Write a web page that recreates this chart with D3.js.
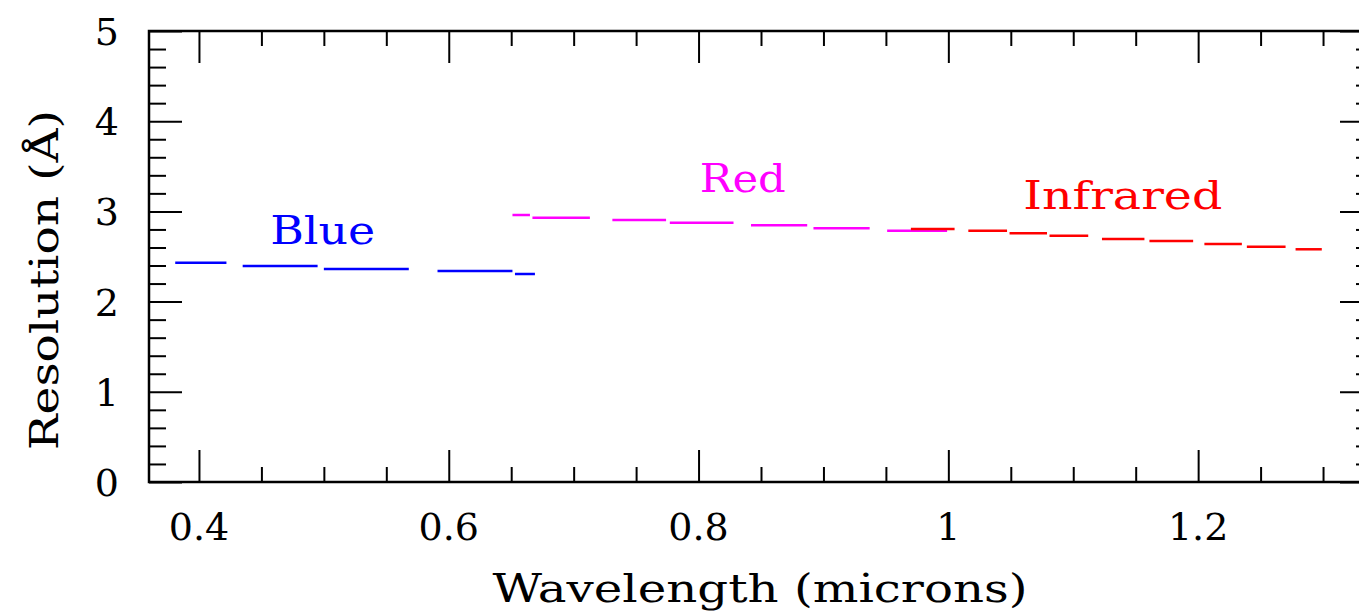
<!DOCTYPE html>
<html>
<head>
<meta charset="utf-8">
<script src="https://cdn.jsdelivr.net/npm/d3@7"></script>
<style>
  body { margin: 0; background: #fff; overflow: hidden; }
  text { font-family: "DejaVu Serif", "Liberation Serif", serif; }
</style>
</head>
<body>
<div id="chart-container"></div>
<script>
{ // start block scope

  // wavelength (microns) where each dash starts / ends, and resolution (A)
  const blueStart = [0.381, 0.435, 0.500, 0.591, 0.653];
  const blueEnd   = [0.422, 0.495, 0.568, 0.651, 0.669];
  const blueRes   = [2.431, 2.395, 2.361, 2.339, 2.306];

  const redStart = [0.651, 0.667, 0.731, 0.777, 0.842, 0.892, 0.951];
  const redEnd   = [0.665, 0.713, 0.774, 0.828, 0.887, 0.937, 0.999];
  const redRes   = [2.960, 2.930, 2.905, 2.875, 2.846, 2.813, 2.786];

  const irStart = [0.970, 1.016, 1.049, 1.081, 1.123, 1.161, 1.205, 1.239, 1.278];
  const irEnd   = [1.005, 1.047, 1.079, 1.112, 1.157, 1.196, 1.235, 1.270, 1.299];
  const irRes   = [2.805, 2.786, 2.757, 2.731, 2.694, 2.672, 2.639, 2.609, 2.580];

  const xMajorTicks = [0.4, 0.6, 0.8, 1.0, 1.2];
  const xTickLabels = ['0.4', '0.6', '0.8', '1', '1.2'];
  const yMajorTicks = [0, 1, 2, 3, 4, 5];

  const seriesNames = ['Blue', 'Red', 'Infrared'];
  // where each name sits, in data units (wavelength, resolution)
  const labelWave = [0.457, 0.801, 1.060];
  const labelRes  = [2.64, 3.22, 3.03];

  const color = { blue: '#0000ff', magenta: '#ff00ff', red: '#ff0000' };
  const seriesColors = [color.blue, color.magenta, color.red];
  const labelWidths = [105, 86, 199];

  const series = [
    { start: blueStart, end: blueEnd, res: blueRes },
    { start: redStart, end: redEnd, res: redRes },
    { start: irStart, end: irEnd, res: irRes }
  ];

  // constants
  const totalWidth = 1359;
  const totalHeight = 613;
  const plot = { left: 149, right: 1373, top: 31, bottom: 482 };

  const svg = d3.select('#chart-container')
    .append('svg')
    .attr('width', totalWidth)
    .attr('height', totalHeight);

  // scales
  const xScale = d3.scaleLinear()
    .domain([0.36, 1.34])
    .range([plot.left, plot.right]);

  const yScale = d3.scaleLinear()
    .domain([0, 5])
    .range([plot.bottom, plot.top]);

  const xMinor = d3.range(0.4, 1.34, 0.05).map(d => +d.toFixed(2))
    .filter(d => !xMajorTicks.some(m => Math.abs(m - d) < 1e-6));
  const yMinor = d3.range(0, 5.001, 0.2).map(d => +d.toFixed(1))
    .filter(d => !yMajorTicks.includes(d));

  // axes: ticks pointing inward on all four sides
  const axes = svg.append('g').attr('class', 'axes');

  function addAxis(axisGen, tickVals, size, transform) {
    axes.append('g')
      .attr('transform', transform)
      .call(axisGen.tickValues(tickVals).tickSize(size).tickFormat(''))
      .call(g => g.select('.domain').remove())
      .call(g => g.selectAll('line').attr('stroke', '#000').attr('stroke-width', 2));
  }

  // bottom & top
  addAxis(d3.axisTop(xScale), xMajorTicks, 32, `translate(0, ${plot.bottom})`);
  addAxis(d3.axisTop(xScale), xMinor, 15, `translate(0, ${plot.bottom})`);
  addAxis(d3.axisBottom(xScale), xMajorTicks, 32, `translate(0, ${plot.top})`);
  addAxis(d3.axisBottom(xScale), xMinor, 15, `translate(0, ${plot.top})`);
  // left & right
  addAxis(d3.axisRight(yScale), yMajorTicks, 33, `translate(${plot.left}, 0)`);
  addAxis(d3.axisRight(yScale), yMinor, 17, `translate(${plot.left}, 0)`);
  addAxis(d3.axisLeft(yScale), yMajorTicks, 33, `translate(${plot.right}, 0)`);
  addAxis(d3.axisLeft(yScale), yMinor, 17, `translate(${plot.right}, 0)`);

  // frame
  axes.append('rect')
    .attr('x', plot.left)
    .attr('y', plot.top)
    .attr('width', plot.right - plot.left)
    .attr('height', plot.bottom - plot.top)
    .attr('fill', 'none')
    .attr('stroke', '#000')
    .attr('stroke-width', 2.5);

  // tick labels
  svg.append('g')
    .selectAll('text')
    .data(xMajorTicks)
    .enter()
    .append('text')
    .attr('x', d => xScale(d))
    .attr('y', 540)
    .attr('text-anchor', 'middle')
    .attr('font-size', 38)
    .text((d, i) => xTickLabels[i]);

  svg.append('g')
    .selectAll('text')
    .data(yMajorTicks)
    .enter()
    .append('text')
    .attr('x', 119)
    .attr('y', d => yScale(d) + 14)
    .attr('text-anchor', 'end')
    .attr('font-size', 38)
    .text(d => d);

  // axis titles
  svg.append('text')
    .attr('x', 760)
    .attr('y', 602)
    .attr('text-anchor', 'middle')
    .attr('font-size', 40)
    .attr('textLength', 535)
    .attr('lengthAdjust', 'spacingAndGlyphs')
    .text('Wavelength (microns)');

  svg.append('text')
    .attr('transform', 'translate(58, 280) rotate(-90)')
    .attr('text-anchor', 'middle')
    .attr('font-size', 40)
    .attr('textLength', 340)
    .attr('lengthAdjust', 'spacingAndGlyphs')
    .text('Resolution (Å)');

  // dashes
  series.forEach((s, k) => {
    svg.append('g')
      .selectAll('line')
      .data(s.start.map((d, i) => ({ x0: d, x1: s.end[i], y: s.res[i] })))
      .enter()
      .append('line')
      .attr('x1', d => xScale(d.x0))
      .attr('x2', d => xScale(d.x1))
      .attr('y1', d => yScale(d.y))
      .attr('y2', d => yScale(d.y))
      .attr('stroke', seriesColors[k])
      .attr('stroke-width', 2.5);
  });

  // series labels
  svg.append('g')
    .selectAll('text')
    .data(seriesNames)
    .enter()
    .append('text')
    .attr('x', (d, i) => xScale(labelWave[i]))
    .attr('y', (d, i) => yScale(labelRes[i]))
    .attr('fill', (d, i) => seriesColors[i])
    .attr('font-size', 40)
    .attr('textLength', (d, i) => labelWidths[i])
    .attr('lengthAdjust', 'spacingAndGlyphs')
    .text(d => d);

} // end block scope
</script>
</body>
</html>
